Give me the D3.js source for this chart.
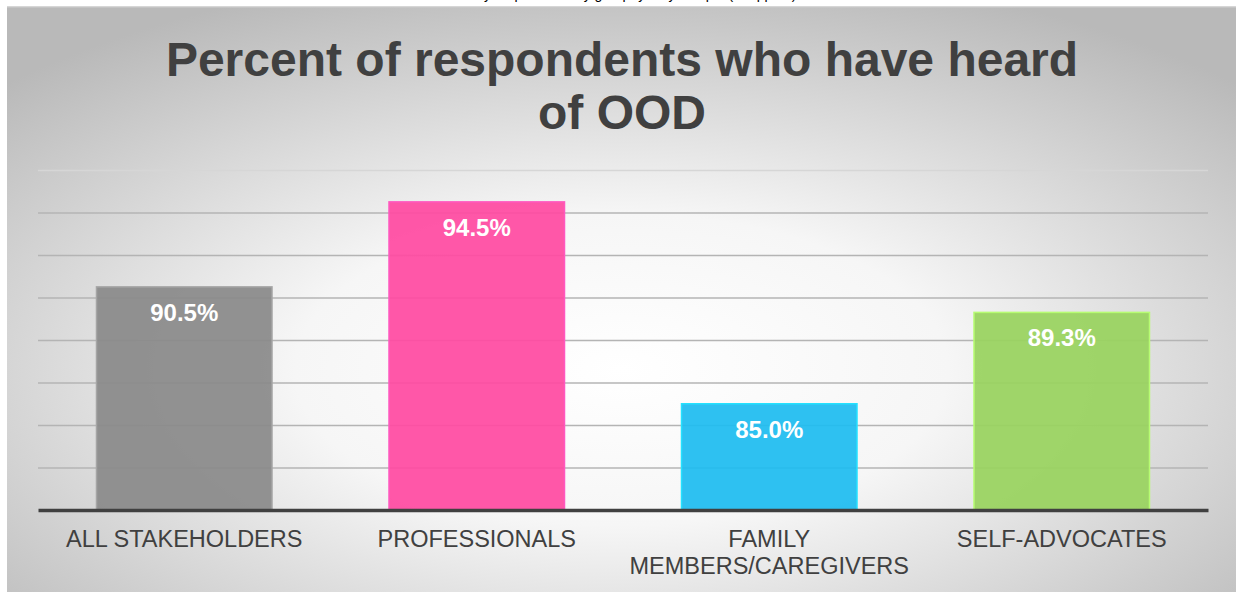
<!DOCTYPE html>
<html>
<head>
<meta charset="utf-8">
<script src="https://cdn.jsdelivr.net/npm/d3@7"></script>
<style>
  body { margin: 0; background: #fff; }
  svg { display: block; }
</style>
</head>
<body>
<div id="chart"></div>
<script>
// Chart data
const categories = ["ALL STAKEHOLDERS", "PROFESSIONALS", "FAMILY MEMBERS/CAREGIVERS", "SELF-ADVOCATES"];
const categoryLines = [["ALL STAKEHOLDERS"], ["PROFESSIONALS"], ["FAMILY", "MEMBERS/CAREGIVERS"], ["SELF-ADVOCATES"]];
const values = [90.5, 94.5, 85.0, 89.3];
const barColors = ["#8a8a8a", "#ff4aa1", "#1ebcf0", "#99d35f"];
const yTicks = [80, 82, 84, 86, 88, 90, 92, 94, 96];
const titleLines = ["Percent of respondents who have heard", "of OOD"];

const width = 1236, height = 592;
const plot = { left: 38, right: 1208, top: 170, bottom: 510 };
const font = "'Liberation Sans', Arial, sans-serif";

const svg = d3.select("#chart").append("svg")
    .attr("width", width)
    .attr("height", height);

// Background gradient
const defs = svg.append("defs");
const grad = defs.append("radialGradient")
    .attr("id", "bg")
    .attr("cx", "50%").attr("cy", "62%")
    .attr("r", "70%");
grad.append("stop").attr("offset", "0%").attr("stop-color", "#ffffff");
grad.append("stop").attr("offset", "38%").attr("stop-color", "#f6f6f6");
grad.append("stop").attr("offset", "100%").attr("stop-color", "#b9b9b9");

// clipped line of text above the chart frame
svg.append("text")
    .attr("x", 622).attr("y", -1)
    .attr("text-anchor", "middle")
    .style("font-family", font)
    .style("font-size", "14px")
    .style("fill", "#000")
    .text("Survey respondents by group: yearly sample (n=approx)");

svg.append("rect")
    .attr("x", 7).attr("y", 7)
    .attr("width", width - 7).attr("height", height - 7)
    .attr("fill", "url(#bg)");
svg.append("line")
    .attr("x1", 7).attr("x2", width)
    .attr("y1", 7).attr("y2", 7)
    .attr("stroke", "#c8c8c8").attr("stroke-width", 1.5);

// Title
svg.append("text")
    .attr("x", 622).attr("y", 76)
    .attr("text-anchor", "middle")
    .style("font-family", font)
    .style("font-size", "48px")
    .style("font-weight", "bold")
    .style("fill", "#404040")
    .selectAll("tspan")
    .data(titleLines)
    .enter().append("tspan")
    .attr("x", 622)
    .attr("dy", (d, i) => i === 0 ? 0 : 53)
    .text(d => d);

// Scales
const x = d3.scaleBand()
    .domain(categories)
    .range([plot.left, plot.right])
    .paddingInner(0.4)
    .paddingOuter(0.2);

const y = d3.scaleLinear()
    .domain([80, 96])
    .range([plot.bottom, plot.top]);

// Gridlines
const grid = svg.append("g")
    .attr("transform", `translate(${plot.left},0)`)
    .call(d3.axisLeft(y).tickValues(yTicks.slice(1)).tickSize(-(plot.right - plot.left)).tickFormat(""));
grid.select(".domain").remove();
grid.selectAll(".tick line")
    .attr("stroke", d => d === 96 ? "#d6d6d6" : "#b4b4b4")
    .attr("stroke-width", 1.5);

// Bars
svg.append("g").selectAll("rect")
    .data(values)
    .enter().append("rect")
    .attr("x", (d, i) => x(categories[i]))
    .attr("y", d => y(d))
    .attr("width", x.bandwidth())
    .attr("height", d => y(80) - y(d))
    .attr("fill", (d, i) => barColors[i])
    .attr("fill-opacity", 0.93)
    .attr("stroke", (d, i) => d3.color(barColors[i]).brighter(0.5))
    .attr("stroke-width", 1.5);

// Data labels
svg.append("g").selectAll("text")
    .data(values)
    .enter().append("text")
    .attr("x", (d, i) => x(categories[i]) + x.bandwidth() / 2)
    .attr("y", d => y(d) + 34)
    .attr("text-anchor", "middle")
    .style("font-family", font)
    .style("font-size", "24px")
    .style("font-weight", "bold")
    .style("fill", "#ffffff")
    .text(d => d.toFixed(1) + "%");

// Baseline
const xAxis = svg.append("g")
    .attr("transform", `translate(0,${plot.bottom})`)
    .call(d3.axisBottom(x).tickSize(0).tickFormat(""));
xAxis.select(".domain")
    .attr("stroke", "#404040")
    .attr("stroke-width", 3.5);

// Category labels
const labels = svg.append("g").selectAll("text")
    .data(categories)
    .enter().append("text")
    .attr("x", d => x(d) + x.bandwidth() / 2)
    .attr("y", 547)
    .attr("text-anchor", "middle")
    .style("font-family", font)
    .style("font-size", "23.5px")
    .style("fill", "#404040");
labels.selectAll("tspan")
    .data((d, i) => categoryLines[i])
    .enter().append("tspan")
    .attr("x", function() { return d3.select(this.parentNode).attr("x"); })
    .attr("dy", (d, i) => i === 0 ? 0 : 27)
    .text(d => d);
</script>
</body>
</html>
